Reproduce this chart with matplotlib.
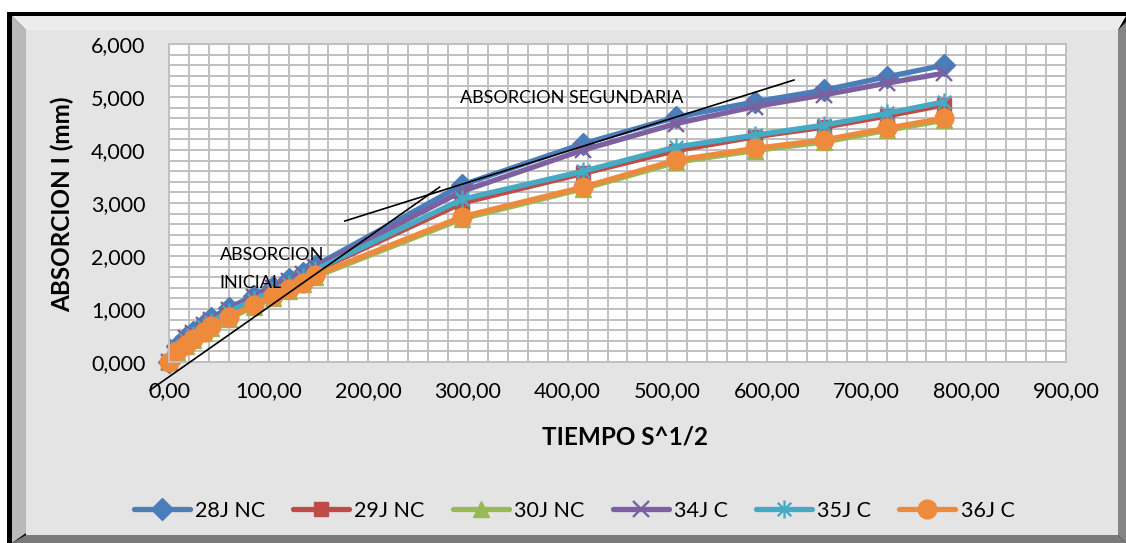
import numpy as np
import matplotlib
matplotlib.use("Agg")
import matplotlib.pyplot as plt
from matplotlib.patches import Polygon
from matplotlib.path import Path
from matplotlib.ticker import MultipleLocator, FuncFormatter

plt.rcParams['font.family'] = ['Lato', 'DejaVu Sans']

# tiempo en raiz de segundos (0, 1 min ... 6 h, luego 1 a 7 dias)
tiempo = [0.0, 7.75, 17.32, 24.49, 34.64, 42.43, 60.0, 84.85, 103.92, 120.0,
          134.16, 146.97, 293.94, 415.69, 509.12, 587.88, 657.27, 720.0, 777.69]

abs_28j_nc = [0.0, 0.30, 0.48, 0.56, 0.72, 0.83, 1.02, 1.25, 1.42, 1.56, 1.68, 1.82,
              3.34, 4.12, 4.62, 4.91, 5.13, 5.38, 5.60]
abs_29j_nc = [0.0, 0.25, 0.40, 0.50, 0.64, 0.74, 0.93, 1.15, 1.32, 1.46, 1.58, 1.72,
              3.00, 3.56, 3.99, 4.25, 4.43, 4.64, 4.85]
abs_30j_nc = [0.0, 0.18, 0.31, 0.41, 0.54, 0.65, 0.82, 1.04, 1.21, 1.34, 1.47, 1.61,
              2.70, 3.27, 3.77, 3.99, 4.15, 4.37, 4.56]
abs_34j_c = [0.0, 0.28, 0.45, 0.54, 0.69, 0.80, 0.99, 1.22, 1.39, 1.53, 1.66, 1.79,
             3.22, 4.00, 4.50, 4.82, 5.04, 5.26, 5.45]
abs_35j_c = [0.0, 0.26, 0.42, 0.51, 0.66, 0.76, 0.95, 1.17, 1.34, 1.48, 1.60, 1.74,
             3.07, 3.60, 4.06, 4.28, 4.47, 4.69, 4.91]
abs_36j_c = [0.0, 0.20, 0.33, 0.43, 0.56, 0.68, 0.85, 1.075, 1.24, 1.37, 1.50, 1.64,
             2.74, 3.30, 3.81, 4.03, 4.19, 4.41, 4.60]

labels = ['28J NC', '29J NC', '30J NC', '34J C', '35J C', '36J C']

# rectas de tendencia dibujadas a mano sobre la grafica
recta_inicial_x = [-19.0, 271.5]
recta_inicial_y = [-0.53, 3.30]
recta_segundaria_x = [176.4, 627.0]
recta_segundaria_y = [2.66, 5.32]

W, H = 1126, 543
fig = plt.figure(figsize=(W / 100, H / 100), dpi=100, facecolor='white')


def px(pts):
    return [(x / W, 1 - y / H) for x, y in pts]


def bisel(pts, color):
    fig.patches.append(Polygon(px(pts), closed=True, transform=fig.transFigure,
                               fc=color, ec='none', zorder=-10))


# marco biselado del area del grafico
bisel([(7, 12), (1126, 12), (1126, 543), (7, 543)], 'black')
bisel([(12, 16), (26, 30), (26, 533), (12, 543)], '#b9b9b9')
bisel([(12, 16), (1126, 16), (1118, 30), (26, 30)], '#ececec')
bisel([(1126, 22), (1126, 543), (1118, 535), (1118, 30)], '#858585')
bisel([(12, 543), (1126, 543), (1118, 535), (26, 535)], '#7a7a7a')
bisel([(26, 30), (1118, 30), (1118, 535), (26, 535)], '#e4e4e4')

ax = fig.add_axes([169 / W, 1 - 362 / H, (1066 - 169) / W, (362 - 44) / H])
ax.set_facecolor('white')

asterisco = Path([(0, -1), (0, 1), (-0.75, -0.75), (0.75, 0.75), (-0.75, 0.75), (0.75, -0.75)],
                 [Path.MOVETO, Path.LINETO, Path.MOVETO, Path.LINETO, Path.MOVETO, Path.LINETO])

series = [abs_28j_nc, abs_29j_nc, abs_30j_nc, abs_34j_c, abs_35j_c, abs_36j_c]
colors = ['#4A7EBB', '#BE4B48', '#98B954', '#7D60A0', '#46AAC5', '#EE8A3C']
markers = ['D', 's', '^', 'x', asterisco, 'o']
msizes = [11, 10.5, 11, 12, 13, 13.5]

for y, lab, c, m, ms in zip(series, labels, colors, markers, msizes):
    if m in ('x',) or m is asterisco:
        ax.plot(tiempo, y, color=c, lw=3.8, marker=m, ms=ms, mfc='none', mec=c,
                mew=1.7, label=lab, solid_capstyle='round', clip_on=False)
    else:
        ax.plot(tiempo, y, color=c, lw=3.8, marker=m, ms=ms, mfc=c, mec=c,
                label=lab, solid_capstyle='round', clip_on=False)

ax.plot(recta_inicial_x, recta_inicial_y, color='black', lw=1.2, clip_on=False, zorder=5)
ax.plot(recta_segundaria_x, recta_segundaria_y, color='black', lw=1.2, clip_on=False, zorder=5)

ax.text(291.6, 4.98, 'ABSORCION SEGUNDARIA', fontsize=13, va='center', ha='left')
ax.text(50.8, 2.02, 'ABSORCION', fontsize=13, va='center', ha='left')
ax.text(50.8, 1.50, 'INICIAL', fontsize=13, va='center', ha='left')

ax.set_xlim(0, 900)
ax.set_ylim(0, 6)
ax.xaxis.set_major_locator(MultipleLocator(100))
ax.xaxis.set_minor_locator(MultipleLocator(20))
ax.yaxis.set_major_locator(MultipleLocator(1))
ax.yaxis.set_minor_locator(MultipleLocator(0.2))
ax.xaxis.set_major_formatter(FuncFormatter(lambda v, p: f"{v:.2f}".replace('.', ',')))
ax.yaxis.set_major_formatter(FuncFormatter(lambda v, p: f"{v:.3f}".replace('.', ',')))
ax.grid(True, which='both', color='#c0c0c0', lw=1.4)
ax.set_axisbelow(True)
ax.tick_params(which='both', length=0)
ax.tick_params(axis='y', labelsize=15.5, pad=17)
ax.tick_params(axis='x', labelsize=15.5, pad=14)
for s in ax.spines.values():
    s.set_color('#c0c0c0')
    s.set_linewidth(1.4)

fig.text(625 / W, 1 - 437 / H, 'TIEMPO S^1/2', fontsize=17.5, fontweight='bold',
         ha='center', va='center')
fig.text(62 / W, 1 - 204 / H, 'ABSORCION I (mm)', fontsize=17.5, fontweight='bold',
         ha='center', va='center', rotation=90)

fig.legend(loc='center', bbox_to_anchor=(574 / W, 1 - 511 / H), ncol=6, frameon=False,
           fontsize=15.5, handlelength=2.6, handletextpad=0.25, columnspacing=1.3)

fig.savefig('out.png', dpi=100, facecolor=fig.get_facecolor())
